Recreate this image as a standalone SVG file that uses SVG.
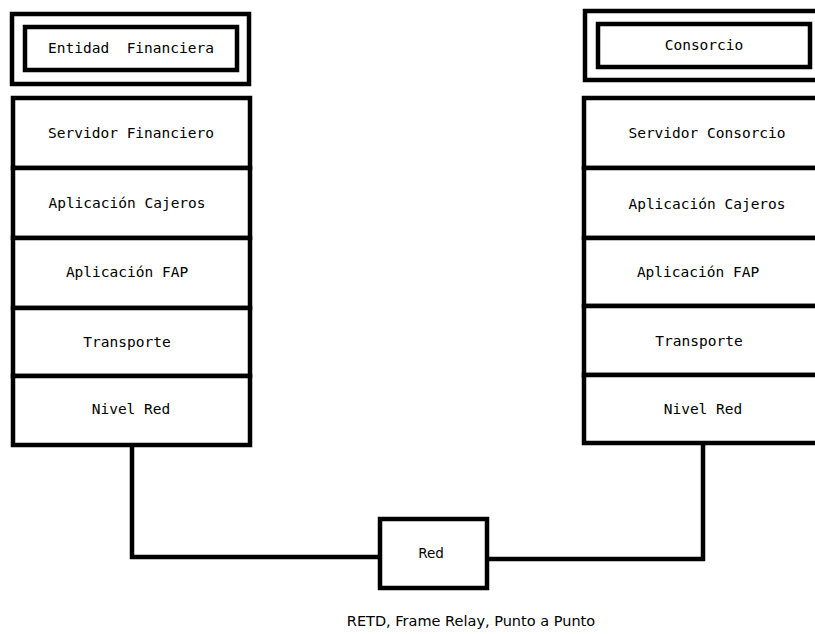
<svg xmlns="http://www.w3.org/2000/svg" width="815" height="634" viewBox="0 0 815 634">
  <style>
    .box { fill: #ffffff; stroke: #000000; stroke-width: 4.5; }
    .wire { fill: none; stroke: #000000; stroke-width: 4.5; }
    .mono { font-family: "DejaVu Sans Mono", "Liberation Mono", monospace; font-size: 14.5px; fill: #000000; text-anchor: middle; white-space: pre; }
    .sans { font-family: "DejaVu Sans", "Liberation Sans", sans-serif; font-size: 13.5px; fill: #000000; text-anchor: middle; }
    .caption { font-size: 14.5px; }
  </style>
  <rect width="815" height="634" fill="#ffffff"/>

  <!-- connectors -->
  <g id="connectors">
    <polyline class="wire" points="132,445 132,557 380,557"/>
    <polyline class="wire" points="487,559 703,559 703,443"/>
  </g>

  <!-- left stack -->
  <g id="entidad-financiera">
    <rect class="box" x="12" y="14" width="237" height="70"/>
    <rect class="box" x="25" y="27" width="212" height="43"/>
    <text class="mono" x="131" y="53" xml:space="preserve">Entidad  Financiera</text>
  </g>
  <g id="servidor-financiero">
    <rect class="box" x="13" y="98" width="237" height="70"/>
    <text class="mono" x="131" y="138">Servidor Financiero</text>
  </g>
  <g id="aplicacion-cajeros-izq">
    <rect class="box" x="13" y="168" width="237" height="70"/>
    <text class="mono" x="127" y="208">Aplicación Cajeros</text>
  </g>
  <g id="aplicacion-fap-izq">
    <rect class="box" x="13" y="238" width="237" height="70"/>
    <text class="mono" x="127" y="277">Aplicación FAP</text>
  </g>
  <g id="transporte-izq">
    <rect class="box" x="13" y="308" width="237" height="68"/>
    <text class="mono" x="127" y="347">Transporte</text>
  </g>
  <g id="nivel-red-izq">
    <rect class="box" x="13" y="376" width="237" height="69"/>
    <text class="mono" x="131" y="414">Nivel Red</text>
  </g>

  <!-- right stack -->
  <g id="consorcio">
    <rect class="box" x="585" y="11" width="240" height="69"/>
    <rect class="box" x="598" y="24" width="212" height="43"/>
    <text class="mono" x="704" y="50">Consorcio</text>
  </g>
  <g id="servidor-consorcio">
    <rect class="box" x="584" y="98" width="240" height="70"/>
    <text class="mono" x="707" y="138">Servidor Consorcio</text>
  </g>
  <g id="aplicacion-cajeros-der">
    <rect class="box" x="584" y="168" width="240" height="70"/>
    <text class="mono" x="707" y="209">Aplicación Cajeros</text>
  </g>
  <g id="aplicacion-fap-der">
    <rect class="box" x="584" y="238" width="240" height="68"/>
    <text class="mono" x="698" y="277">Aplicación FAP</text>
  </g>
  <g id="transporte-der">
    <rect class="box" x="584" y="306" width="240" height="69"/>
    <text class="mono" x="699" y="346">Transporte</text>
  </g>
  <g id="nivel-red-der">
    <rect class="box" x="584" y="375" width="240" height="68"/>
    <text class="mono" x="703" y="414">Nivel Red</text>
  </g>

  <!-- network cloud -->
  <g id="red">
    <rect class="box" x="380" y="519" width="107" height="69"/>
    <text class="sans" x="431" y="558">Red</text>
  </g>
  <g id="leyenda">
    <text class="sans caption" x="471" y="626">RETD, Frame Relay, Punto a Punto</text>
  </g>
</svg>
